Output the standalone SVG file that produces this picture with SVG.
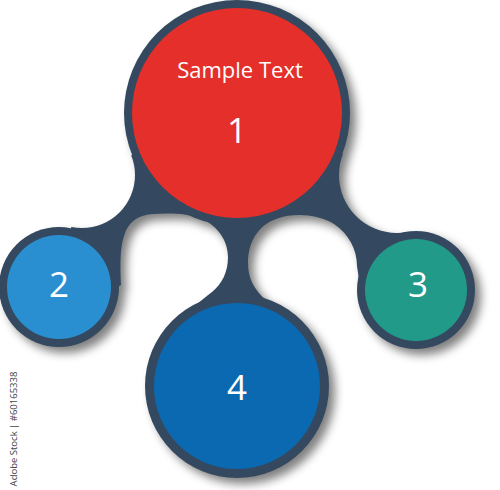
<svg xmlns="http://www.w3.org/2000/svg" xmlns:xlink="http://www.w3.org/1999/xlink" width="500" height="490" viewBox="0 0 500 490">
<style>
.ring{fill:#34495f}
.lbl{font-family:"Open Sans","Liberation Sans",sans-serif;fill:#ffffff;text-anchor:middle}
.num{font-size:35px}
</style>
<defs>
<filter id="sh" x="-30%" y="-30%" width="160%" height="160%">
<feGaussianBlur in="SourceAlpha" stdDeviation="5"/>
<feOffset dx="6" dy="6" result="b"/>
<feComponentTransfer><feFuncA type="linear" slope="0.5"/></feComponentTransfer>
</filter>
<mask id="holes" maskUnits="userSpaceOnUse" x="0" y="0" width="500" height="490">
<rect x="0" y="0" width="500" height="490" fill="#fff"/>
<circle cx="82" cy="175" r="53" fill="#000"/>
<circle cx="397" cy="175" r="58" fill="#000"/>
<path fill="#000" d="M95,300 L121,285 C120,265 120,248 124,236 C128,222 138,215 152,214 C170,213 188,213 202,219 C218,226 228,241 228,257 C228,272 222,284 212,292 C206,297 200,301 195,306 L215,330 L140,400 Z"/>
<path fill="#000" d="M275,318 L266,300 C254,290 248,278 248,263 C248,242 258,225 278,218 C295,213 318,214 334,224 C349,234 357,250 357,266 L362,300 L380,330 L330,400 Z"/>
</mask>
<polygon id="webshape" points="59,287 82,175 237,113 397,175 416,290 237,386" mask="url(#holes)"/>
</defs>

<g id="shadow" filter="url(#sh)">
<use xlink:href="#webshape"/>
<circle cx="237" cy="113" r="113"/>
<circle cx="59" cy="287" r="60"/>
<circle cx="416" cy="290" r="59"/>
<circle cx="237" cy="386" r="92"/>
</g>

<g id="connectors">
<use xlink:href="#webshape" class="ring"/>
</g>

<g id="node1">
<circle class="ring" cx="237" cy="113" r="113"/>
<circle cx="237" cy="113" r="105" fill="#e52f2b"/>
<text class="lbl" x="240" y="78" font-size="22">Sample Text</text>
<text class="lbl num" x="237" y="143">1</text>
</g>

<g id="node2">
<circle class="ring" cx="59" cy="287" r="60"/>
<circle cx="59" cy="287" r="52" fill="#2a8fd0"/>
<text class="lbl num" x="59" y="297">2</text>
</g>

<g id="node3">
<circle class="ring" cx="416" cy="290" r="59"/>
<circle cx="416" cy="290" r="51" fill="#229a8a"/>
<text class="lbl num" x="418" y="297">3</text>
</g>

<g id="node4">
<circle class="ring" cx="237" cy="386" r="92"/>
<circle cx="237" cy="386" r="83" fill="#0b69b1"/>
<text class="lbl num" x="237" y="400">4</text>
</g>

<text transform="translate(17,429) rotate(-90)" text-anchor="middle" font-family="'Open Sans','Liberation Sans',sans-serif" font-size="9.5" fill="#444">Adobe Stock | #60165338</text>
</svg>
